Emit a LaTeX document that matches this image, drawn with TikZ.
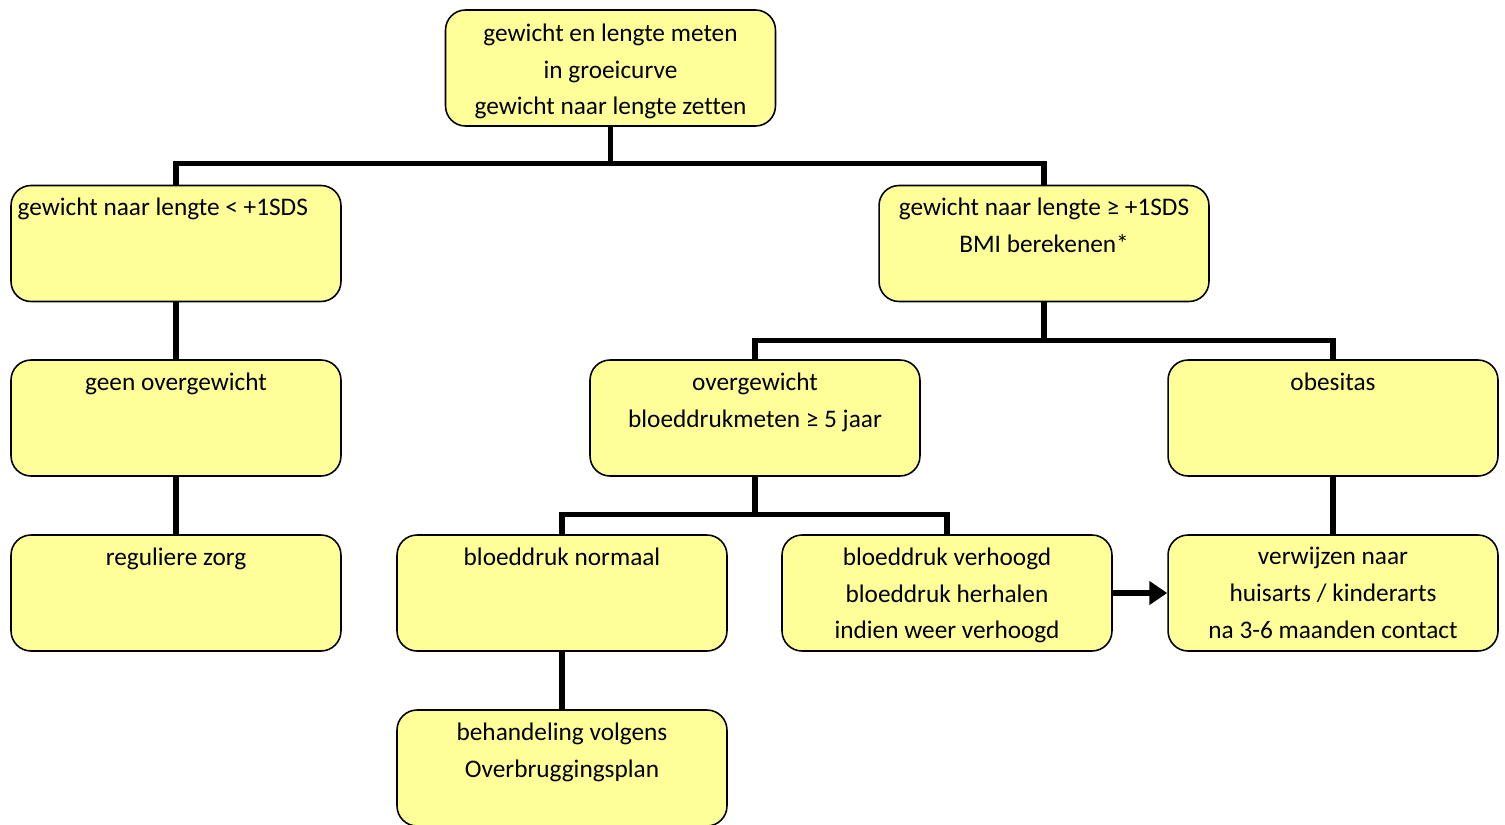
\documentclass[tikz,border=0pt]{standalone}
\usepackage{fontspec}
\setmainfont[Ligatures=NoCommon]{Carlito}
\usetikzlibrary{arrows.meta,positioning}
\definecolor{boxyellow}{RGB}{255,255,153}
\tikzset{
  fbox/.style={draw=black, line width=0.9pt, rounded corners=0.4cm, fill=boxyellow,
               minimum width=6.6cm, minimum height=2.32cm, inner sep=0pt},
  ftext/.style={font={\fontsize{14.4pt}{21pt}\selectfont}, align=center,
                inner sep=0pt, anchor=north},
  conn/.style={line width=2.9pt},
}

\begin{document}
\begin{tikzpicture}[x=0.02cm, y=-0.02cm]
\useasboundingbox (0,0) rectangle (1505,825);

% --- boxes ---
\node[fbox] (meten) at (610.5,68) {};
\node[fbox] (lt) at (176,243.5) {};
\node[fbox] (gt) at (1044,243.5) {};
\node[fbox] (geen) at (176,418) {};
\node[fbox] (overg) at (755,418) {};
\node[fbox] (obes) at (1333,418) {};
\node[fbox] (regul) at (176,593) {};
\node[fbox] (normaal) at (562,593) {};
\node[fbox] (verhoogd) at (947,593) {};
\node[fbox] (verwijs) at (1333,593) {};
\node[fbox] (behand) at (562,768) {};

% --- texts ---
\node[ftext] (meten-t) at ([yshift=-0.28cm]meten.north)
  {gewicht en lengte meten\\in groeicurve\\gewicht naar lengte zetten};
\node[ftext, anchor=north west] (lt-t) at ([xshift=0.14cm, yshift=-0.26cm]lt.north west)
  {gewicht naar lengte < +1SDS};
\node[ftext] (gt-t) at ([yshift=-0.26cm]gt.north)
  {gewicht naar lengte ≥ +1SDS\\BMI berekenen*};
\node[ftext] (geen-t) at ([yshift=-0.26cm]geen.north) {geen overgewicht};
\node[ftext] (overg-t) at ([yshift=-0.26cm]overg.north)
  {overgewicht\\bloeddrukmeten ≥ 5 jaar};
\node[ftext] (obes-t) at ([yshift=-0.26cm]obes.north) {obesitas};
\node[ftext] (regul-t) at ([yshift=-0.26cm]regul.north) {reguliere zorg};
\node[ftext] (normaal-t) at ([yshift=-0.26cm]normaal.north) {bloeddruk normaal};
\node[ftext] (verhoogd-t) at ([yshift=-0.26cm]verhoogd.north)
  {bloeddruk verhoogd\\bloeddruk herhalen\\indien weer verhoogd};
\node[ftext] (verwijs-t) at ([yshift=-0.26cm]verwijs.north)
  {verwijzen naar\\huisarts / kinderarts\\na 3-6 maanden contact};
\node[ftext] (behand-t) at ([yshift=-0.26cm]behand.north)
  {behandeling volgens\\Overbruggingsplan};

% --- connectors ---
\draw[conn] (meten.south) -- ++(0,37) -| (lt.north);
\draw[conn] (meten.south) -- ++(0,37) -| (gt.north);
\draw[conn] (lt.south) -- (geen.north);
\draw[conn] (geen.south) -- (regul.north);
\draw[conn] (gt.south) -- ++(0,38) -| (overg.north);
\draw[conn] (gt.south) -- ++(0,38) -| (obes.north);
\draw[conn] (overg.south) -- ++(0,38) -| (normaal.north);
\draw[conn] (overg.south) -- ++(0,38) -| (verhoogd.north);
\draw[conn] (obes.south) -- (verwijs.north);
\draw[conn] (normaal.south) -- (behand.north);
\draw[conn, -{Triangle[length=0.36cm, width=0.46cm]}] (verhoogd.east) -- (verwijs.west);

\end{tikzpicture}
\end{document}
